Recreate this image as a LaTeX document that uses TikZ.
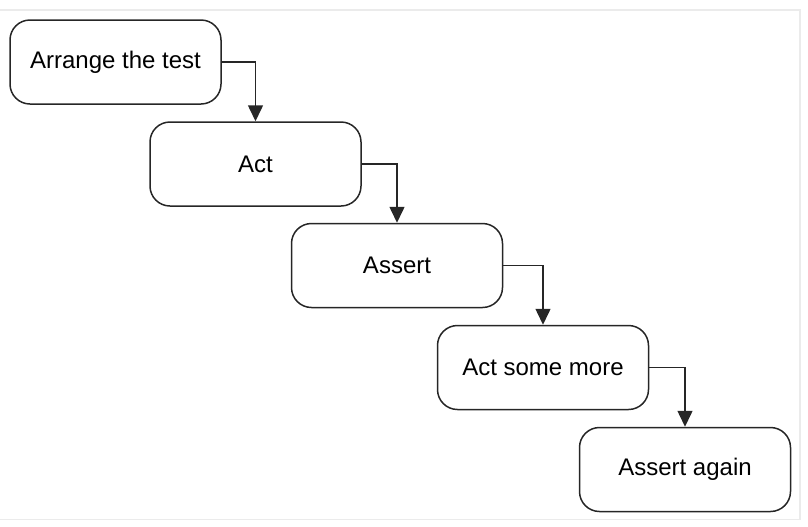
\documentclass[tikz,border=0pt]{standalone}
\usepackage{fontspec}
\setmainfont{Liberation Sans}
\usetikzlibrary{arrows.meta}
\tikzset{
	stepbox/.style={draw=black!85, line width=0.75pt, rounded corners=10pt, minimum width=105.5pt, minimum height=42pt, inner sep=0pt, font=\fontsize{12}{14}\selectfont},
	flow/.style={line width=0.75pt, black!85, -{Triangle[length=8pt,width=7.5pt]}},
}
\begin{document}
\begin{tikzpicture}[x=0.5pt, y=-0.5pt]
			\useasboundingbox (0,0) rectangle (808,526);
			\draw[line width=0.6pt, black!8] (0,10)--(800,10)--(800,519.5)--(0,519.5);
			\node[stepbox] (arrange) at (115.5,62) {Arrange the test};
			\node[stepbox] (act) at (255.5,164) {Act};
			\node[stepbox] (assert) at (397,265.5) {Assert};
			\node[stepbox] (actmore) at (543,367.5) {Act some more};
			\node[stepbox] (assertagain) at (685,469.5) {Assert again};
			\draw[flow] (arrange.east) -| (act.north);
			\draw[flow] (act.east) -| (assert.north);
			\draw[flow] (assert.east) -| (actmore.north);
			\draw[flow] (actmore.east) -| (assertagain.north);
		\end{tikzpicture}
\end{document}
